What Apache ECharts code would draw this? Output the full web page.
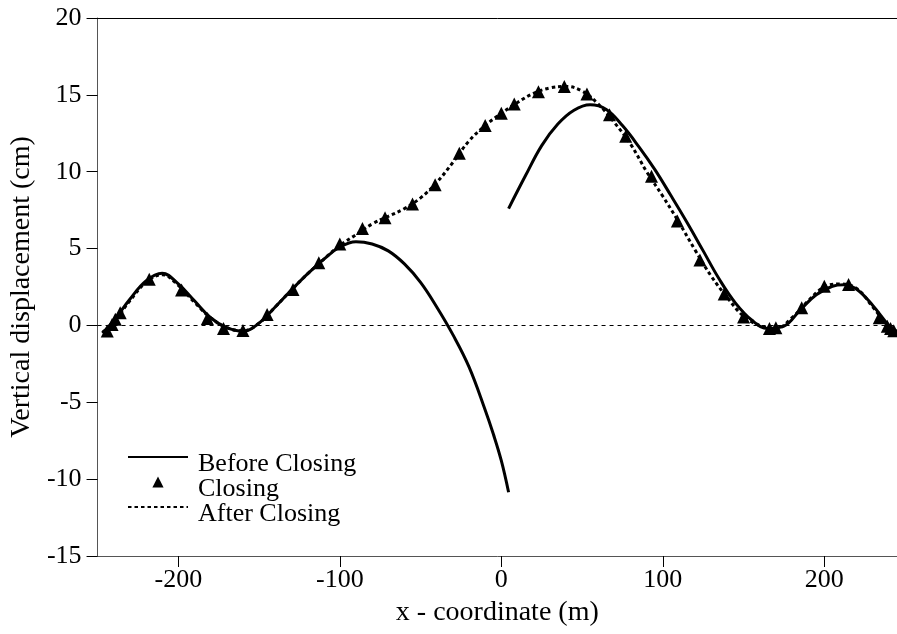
<!DOCTYPE html>
<html>
<head>
<meta charset="utf-8">
<script src="https://cdn.jsdelivr.net/npm/echarts@6/dist/echarts.min.js"></script>
<style>
    html, body { margin: 0; padding: 0; background: #fff; }
    #chart { width: 897px; height: 634px; }
</style>
</head>
<body>
<div id="chart"></div>
<script>
    // Before Closing: two separate pieces
    var beforeX1 = [-247, -240, -230, -220, -210, -200, -190, -180, -170, -160, -150, -140, -130, -120, -110, -100, -90, -80, -70, -60, -50, -40, -30, -20, -10, -5, 0, 4.5];
    var beforeY1 = [-0.5, 0.3, 1.7, 2.9, 3.4, 2.7, 1.6, 0.5, -0.15, -0.38, 0.15, 1.2, 2.3, 3.35, 4.3, 5.1, 5.45, 5.3, 4.85, 4.0, 2.8, 1.2, -0.6, -2.7, -5.5, -7.05, -8.8, -10.85];
    var beforeX2 = [4.5, 15, 25, 35, 45, 55, 65, 75, 85, 95, 105, 115, 125, 135, 145, 155, 165, 175, 185, 195, 205, 212, 220, 230, 240, 245];
    var beforeY2 = [7.6, 9.75, 11.7, 13.1, 14.0, 14.35, 14.05, 13.0, 11.65, 10.15, 8.45, 6.7, 4.85, 3.0, 1.45, 0.35, -0.2, -0.05, 1.0, 2.0, 2.55, 2.65, 2.35, 1.3, 0.0, -0.4];

    // Closing (triangles)
    var closingX = [-244, -241, -239, -236, -218, -198, -182, -172, -160, -145, -129, -113, -100, -86, -72, -55, -41, -26, -10, 0, 8, 23, 39, 53, 67, 77, 93, 109, 123, 138, 150, 166, 170, 186, 200, 215, 234, 239, 241, 243];
    var closingY = [-0.37, 0.06, 0.4, 0.82, 3.0, 2.3, 0.45, -0.2, -0.33, 0.71, 2.34, 4.07, 5.3, 6.3, 7.0, 7.9, 9.16, 11.2, 13.0, 13.8, 14.4, 15.2, 15.55, 15.05, 13.7, 12.3, 9.7, 6.8, 4.25, 2.05, 0.55, -0.2, -0.15, 1.15, 2.55, 2.66, 0.5, -0.05, -0.2, -0.35];

    // After Closing
    var afterX = [-247, -240, -230, -220, -210, -200, -190, -180, -170, -160, -150, -140, -130, -120, -110, -100, -90, -80, -70, -60, -50, -40, -30, -20, -10, 0, 10, 20, 30, 40, 50, 60, 70, 80, 90, 100, 110, 120, 130, 140, 150, 160, 170, 180, 190, 200, 210, 220, 230, 240, 245];
    var afterY = [-0.45, 0.2, 1.6, 2.8, 3.3, 2.6, 1.5, 0.5, -0.15, -0.35, 0.15, 1.2, 2.3, 3.35, 4.3, 5.2, 5.9, 6.6, 7.1, 7.6, 8.3, 9.3, 10.6, 12.0, 13.0, 13.8, 14.5, 15.1, 15.45, 15.55, 15.25, 14.4, 13.2, 11.8, 10.0, 8.4, 6.7, 4.9, 3.2, 1.8, 0.6, 0.0, -0.2, 0.5, 1.6, 2.5, 2.7, 2.4, 1.2, -0.1, -0.4];

    var xTicks = [-200, -100, 0, 100, 200];

    function pairs(xs, ys) {
        var out = [];
        for (var i = 0; i < xs.length; i++) {
            out.push([xs[i], ys[i]]);
        }
        return out;
    }

    var font = 'Liberation Serif';
    var axisColor = '#555';

    var myChart = echarts.init(document.getElementById('chart'));
    var option = {
        animation: false,
        grid: {
            left: 96,
            right: 0,
            top: 18,
            bottom: 78
        },
        legend: {
            orient: 'vertical',
            left: 122,
            top: 432,
            itemWidth: 60,
            itemHeight: 14,
            itemGap: -15,
            data: [
                { name: 'Before Closing', itemStyle: { opacity: 0 } },
                { name: 'Closing' },
                { name: 'After Closing', itemStyle: { opacity: 0 } }
            ],
            // push the text a little below the icon, as in the original
            formatter: '{t|{name}}',
            textStyle: {
                fontFamily: font,
                fontSize: 26,
                color: '#000',
                rich: {
                    t: {
                        fontFamily: font,
                        fontSize: 26,
                        color: '#000',
                        lineHeight: 12,
                        padding: [14, 0, 0, 5]
                    }
                }
            }
        },
        xAxis: [{
            type: 'value',
            min: -250,
            max: 245,
            name: 'x - coordinate (m)',
            nameLocation: 'middle',
            nameGap: 43,
            nameTextStyle: { fontFamily: font, fontSize: 28, color: '#000' },
            axisLine: { onZero: false, lineStyle: { color: axisColor, width: 1 } },
            axisTick: { length: 11, lineStyle: { color: '#000' }, customValues: xTicks },
            axisLabel: { fontFamily: font, fontSize: 26, color: '#000', margin: 11, customValues: xTicks },
            splitLine: { show: false }
        }, {
            type: 'value',
            position: 'top',
            min: -250,
            max: 245,
            axisLine: { show: true, onZero: false, lineStyle: { color: '#000', width: 1 } },
            axisTick: { show: false },
            axisLabel: { show: false },
            splitLine: { show: false }
        }],
        yAxis: {
            type: 'value',
            min: -15,
            max: 20,
            interval: 5,
            name: 'Vertical displacement (cm)',
            nameLocation: 'middle',
            nameGap: 60,
            nameTextStyle: { fontFamily: font, fontSize: 28, color: '#000' },
            axisLine: { show: true, onZero: false, lineStyle: { color: axisColor, width: 1 } },
            axisTick: { show: true, length: 11, lineStyle: { color: '#000' } },
            axisLabel: { fontFamily: font, fontSize: 26, color: '#000', margin: 16 },
            splitLine: { show: false }
        },
        series: [{
            name: 'Before Closing',
            type: 'line',
            data: pairs(beforeX1, beforeY1),
            smooth: 0.4,
            showSymbol: false,
            symbol: 'none',
            lineStyle: { color: '#000', width: 3 },
            itemStyle: { color: '#000' },
            markLine: {
                silent: true,
                symbol: 'none',
                label: { show: false },
                lineStyle: { color: '#000', width: 1, type: [4, 4] },
                data: [{ yAxis: 0 }]
            }
        }, {
            name: 'Before Closing',
            type: 'line',
            data: pairs(beforeX2, beforeY2),
            smooth: 0.4,
            showSymbol: false,
            symbol: 'none',
            lineStyle: { color: '#000', width: 3 },
            itemStyle: { color: '#000' }
        }, {
            name: 'After Closing',
            type: 'line',
            data: pairs(afterX, afterY),
            smooth: 0.4,
            showSymbol: false,
            symbol: 'none',
            lineStyle: { color: '#000', width: 3, type: [3.5, 3] },
            itemStyle: { color: '#000' }
        }, {
            // line series with hidden line so the legend shows a plain triangle
            name: 'Closing',
            type: 'line',
            data: pairs(closingX, closingY),
            symbol: 'triangle',
            symbolSize: 13,
            showSymbol: true,
            showAllSymbol: true,
            lineStyle: { opacity: 0 },
            itemStyle: { color: '#000', opacity: 1 }
        }]
    };
    myChart.setOption(option);
</script>
</body>
</html>
